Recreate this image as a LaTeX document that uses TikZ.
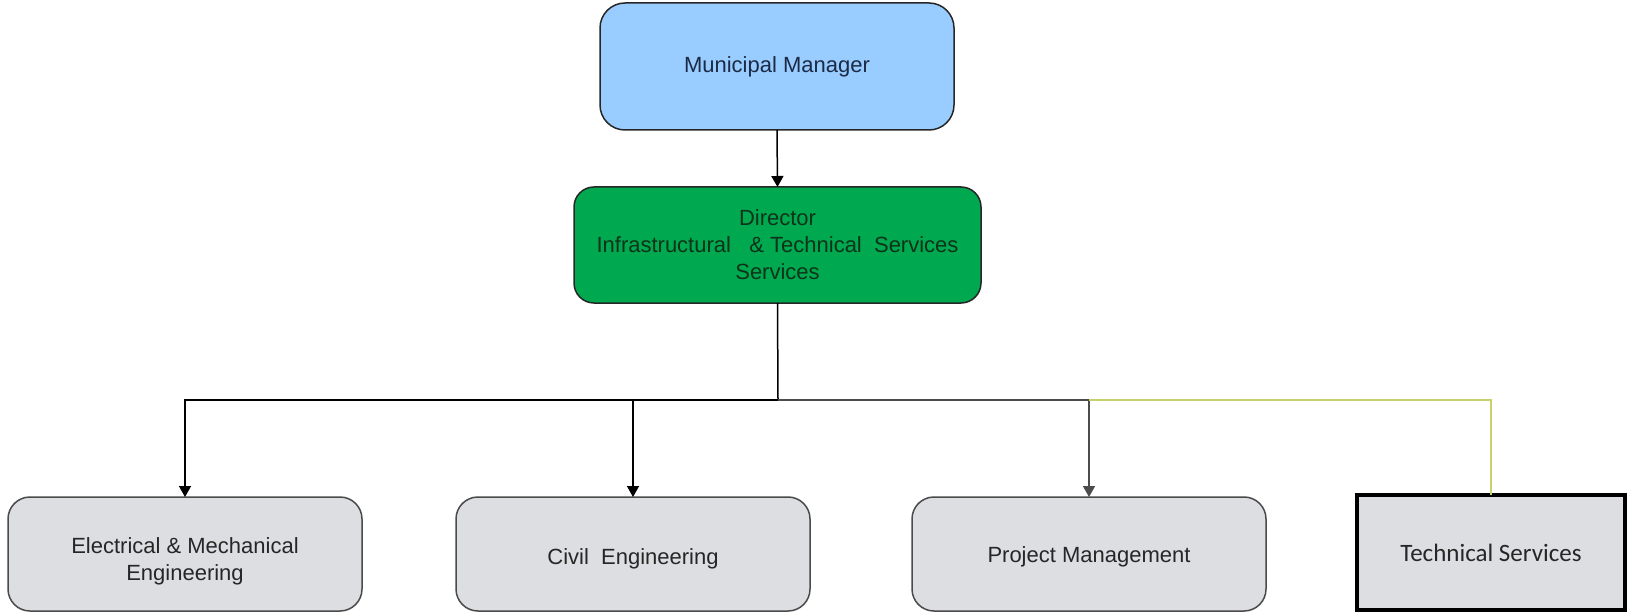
\documentclass[tikz,border=0pt]{standalone}
\usepackage{fontspec}
\setmainfont{Liberation Sans}
\newfontfamily\calibrifont{Carlito}
\usetikzlibrary{arrows.meta}

\definecolor{mmfill}{HTML}{99CCFF}
\definecolor{mmtext}{HTML}{1C2B45}
\definecolor{dirfill}{HTML}{00A84F}
\definecolor{dirtext}{HTML}{0E3319}
\definecolor{unitfill}{HTML}{DCDEE1}
\definecolor{unitline}{HTML}{4A4A4A}
\definecolor{unittext}{HTML}{262626}
\definecolor{oliveline}{HTML}{C8D26A}

\tikzset{
  box/.style={draw, line width=1.5pt, outer sep=0pt, inner sep=0pt, align=center,
    font=\fontsize{22}{27}\selectfont},
  topbox/.style={box, rounded corners=25pt, fill=mmfill, draw=black!85, text=mmtext,
    minimum width=354pt, minimum height=127pt},
  dirbox/.style={box, rounded corners=20pt, fill=dirfill, draw=black!85, text=dirtext,
    minimum width=407pt, minimum height=116pt},
  % unit labels sit a little below the box centre
  unitbox/.style={box, rounded corners=22pt, fill=unitfill, draw=unitline, text=unittext,
    minimum width=354pt, minimum height=114pt, text height=25pt, text depth=5pt},
  plainbox/.style={draw=black, line width=4pt, fill=unitfill, outer sep=0pt, inner sep=0pt,
    text=unittext, font=\calibrifont\fontsize{25}{30}\selectfont,
    minimum width=268pt, minimum height=115pt},
  conn/.style={line width=1.5pt, draw=black},
  arr/.style={conn, -{Triangle[width=12pt,length=11pt]}},
  grayarr/.style={arr, draw=black!70},
  oliveconn/.style={line width=1.4pt, draw=oliveline}
}

\begin{document}
\begin{tikzpicture}[x=1pt, y=-1pt]
  \useasboundingbox (0,0) rectangle (1627,612);

  % management chain
  \node[topbox] (mm) at (777,66.5) {Municipal Manager};
  \node[dirbox] (dir) at (777.5,245) {Director\\Infrastructural\ \ \ \& Technical\ \ Services\\Services};

  % units
  \node[unitbox, text height=57pt] (eme) at (185,554) {Electrical \& Mechanical\\Engineering};
  \node[unitbox] (civ) at (633,554) {Civil\ \ Engineering};
  \node[unitbox, text height=22pt] (pm)  at (1089,554) {Project Management};
  \node[plainbox] (ts) at (1491,552.5) {Technical Services};

  % junction below the director
  \coordinate (j) at (778,400);

  % connectors
  \draw[arr] (mm.south) -- (dir.north);
  \draw[conn] (dir.south) -- (j);
  \draw[arr] (j) -| (eme.north);
  \draw[arr] (civ.north |- j) -- (civ.north);
  \draw[grayarr] (j) -| (pm.north);
  \draw[oliveconn] (pm.north |- j) -| (ts.north);
\end{tikzpicture}
\end{document}
